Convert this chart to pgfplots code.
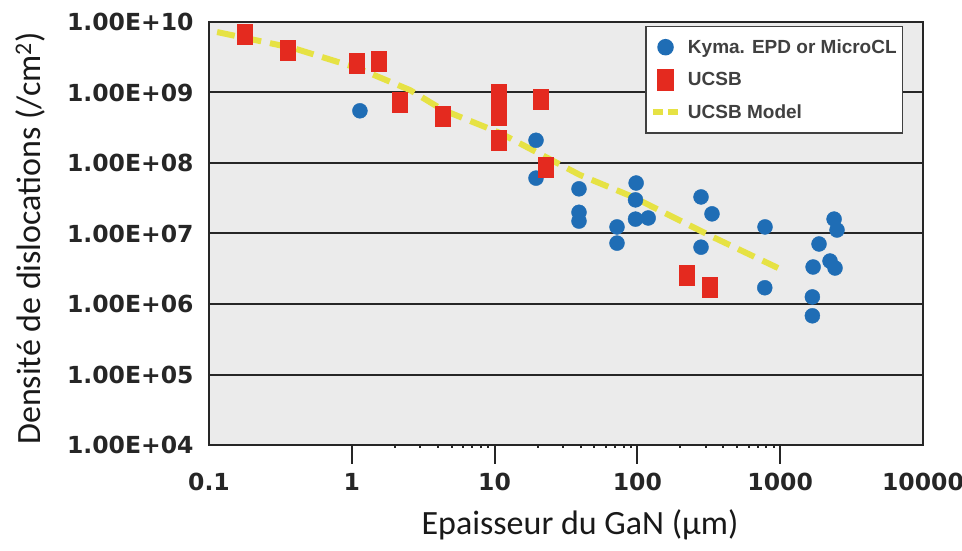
\documentclass[border=0pt]{standalone}
\usepackage{fontspec}
\setmainfont{Carlito}
\newfontfamily\dejavu{DejaVu Sans}
\newfontfamily\libsans{Liberation Sans}
\usepackage{pgfplots}
\pgfplotsset{compat=1.18}
\definecolor{bgc}{HTML}{EBEBEB}
\definecolor{kblue}{HTML}{1F6DB5}
\definecolor{ured}{HTML}{E42A1F}
\definecolor{myel}{HTML}{E6E244}
\pgfplotsset{mylegline/.style={legend image code/.code={\draw[##1, dash pattern=on 10pt off 5pt] (-4pt,0pt) -- (26pt,0pt);}}}
\begin{document}
\begin{tikzpicture}
\path[use as bounding box] (-209pt,-105pt) rectangle (753pt,445pt);
\begin{axis}[
  at={(0,0)}, anchor=south west,
  width=714pt, height=423pt, scale only axis,
  xmode=log, ymode=log,
  xmin=0.1, xmax=10000, ymin=1e4, ymax=1e10,
  axis background/.style={fill=bgc},
  axis line style={line width=2pt, black!85},
  xtick={1,10,100,1000}, xticklabels={1,10,100,1000},
  extra x ticks={0.1,10000}, extra x tick labels={0.1,10000},
  extra x tick style={grid=none, xtick style={draw=none}},
  xtick pos=bottom, ytick pos=left,
  minor xtick={}, minor ytick={},
  ytick={1e4,1e5,1e6,1e7,1e8,1e9,1e10},
  yticklabels={1.00E+04,1.00E+05,1.00E+06,1.00E+07,1.00E+08,1.00E+09,1.00E+10},
  tick align=outside, major tick length=19pt,
  xtick style={line width=2pt, draw=black!85},
  ytick style={draw=none},
  ymajorgrids, major grid style={black!85, line width=2pt},
  tick label style={font=\dejavu\bfseries\fontsize{23.5}{23.5}\selectfont, text=black!85},
  xticklabel style={yshift=-6pt},
  yticklabel style={xshift=7pt},
  xlabel={Epaisseur du GaN (µm)},
  ylabel={Densité de dislocations (/cm\textsuperscript{2})},
  every axis x label/.style={at={(axis description cs:0.5,0)}, anchor=center, xshift=14pt, yshift=-80pt, font=\fontsize{34}{34}\selectfont, text=black!90},
  every axis y label/.style={at={(axis description cs:0,0.5)}, anchor=center, xshift=-179pt, yshift=-5pt, rotate=90, font=\fontsize{34}{34}\selectfont, text=black!90},
  legend style={at={(0.611,0.991)}, anchor=north west, draw=black!75, line width=1.5pt, fill=white,
    font=\libsans\bfseries\fontsize{19}{19}\selectfont, row sep=13pt, inner xsep=4pt, inner ysep=11pt, text=black!75,
    /tikz/column 2/.style={column sep=0pt}},
  legend cell align=left,
]
\addplot[only marks, mark=*, mark size=7.5pt, color=kblue, mark options={draw=kblue, fill=kblue}] coordinates {
(1.14,5.5e8) (19.5,2.1e8) (19.5,6.1e7) (39,4.3e7) (39,2.0e7) (39,1.5e7)
(72,1.24e7) (72,7.3e6) (98,5.2e7) (97,3.0e7) (97,1.6e7) (119,1.66e7)
(279,3.3e7) (333,1.9e7) (279,6.4e6) (783,1.24e7) (780,1.7e6)
(1871,7.1e6) (1700,3.35e6) (1680,1.26e6) (1680,6.8e5)
(2384,1.6e7) (2500,1.12e7) (2233,4.07e6) (2421,3.24e6)
};
\addlegendentry{Kyma. EPD or MicroCL}
\addplot[only marks, mark=square*, mark size=10pt, color=ured, mark options={draw=ured, fill=ured, xscale=0.75}] coordinates {
(0.179,6.7e9) (0.357,4.0e9) (1.09,2.6e9) (1.55,2.8e9) (2.18,7.2e8) (4.35,4.6e8)
(10.6,9.5e8) (10.6,6.8e8) (10.6,4.8e8) (10.6,2.1e8) (21.1,8.1e8) (22.9,8.8e7)
(222,2.6e6) (322,1.75e6)
};
\addlegendentry{UCSB}
\addplot[color=myel, line width=6pt, dash pattern=on 18pt off 9pt, mylegline] coordinates {
(0.114,7.2e9) (0.387,4.28e9) (1.09,2.23e9) (2.56,1.08e9) (4.35,5.65e8) (10.9,2.67e8)
(39.6,6.76e7) (93,3.3e7) (338,8.9e6) (966,3.24e6)
};
\addlegendentry{UCSB Model}
\coordinate (tka) at (axis cs:1,1e4);
\coordinate (tkb) at (axis cs:10,1e4);
\coordinate (tkc) at (axis cs:100,1e4);
\coordinate (tkd) at (axis cs:1000,1e4);
\end{axis}
\draw[line width=2pt, black!85] (tka) -- ++(0,-19pt);
\draw[line width=2pt, black!85] (tkb) -- ++(0,-19pt);
\draw[line width=2pt, black!85] (tkc) -- ++(0,-19pt);
\draw[line width=2pt, black!85] (tkd) -- ++(0,-19pt);
\end{tikzpicture}
\end{document}
